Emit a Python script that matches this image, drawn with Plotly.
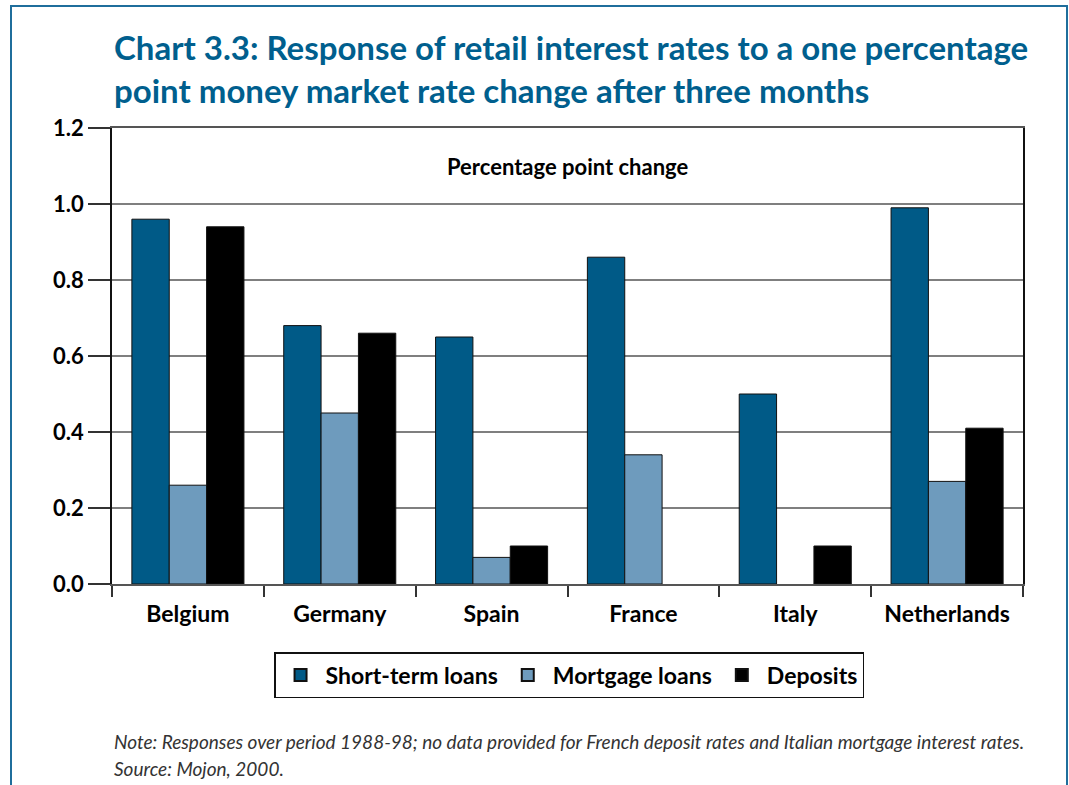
import plotly.graph_objects as go

countries = ["Belgium", "Germany", "Spain", "France", "Italy", "Netherlands"]
short_term = [0.96, 0.68, 0.65, 0.86, 0.50, 0.99]
mortgage = [0.26, 0.45, 0.07, 0.34, None, 0.27]
deposits = [0.94, 0.66, 0.10, None, 0.10, 0.41]
series_names = ["Short-term loans", "Mortgage loans", "Deposits"]
colors = ["#005A87", "#6E9BBD", "#000000"]
y_ticks = [0.0, 0.2, 0.4, 0.6, 0.8, 1.0, 1.2]

FONT = "Lato"

fig = go.Figure()
for name, vals, col in zip(series_names, [short_term, mortgage, deposits], colors):
    fig.add_trace(go.Bar(
        x=countries, y=vals, name=name,
        marker=dict(color=col, line=dict(color="#111111", width=1)),
    ))

W, H = 1069, 785
L, R, T, B = 112, 46, 128, 201
pw, ph = W - L - R, H - T - B

def px_x(p):
    return (p - L) / pw

def px_y(p):
    return (H - B - p) / ph

fig.update_layout(
    width=W, height=H,
    margin=dict(l=L, r=R, t=T, b=B),
    paper_bgcolor="white", plot_bgcolor="white",
    barmode="group", bargap=0.262, bargroupgap=0,
    font=dict(family=FONT, color="#000000"),
    showlegend=True,
    legend=dict(
        orientation="h", x=0.5017, xanchor="center", y=px_y(652), yanchor="top",
        bordercolor="#111111", borderwidth=1.5,
        font=dict(family=FONT, size=23, weight="bold"),
        itemsizing="constant", itemwidth=40, traceorder="normal",
    ),
    xaxis=dict(
        showline=True, linecolor="#555555", linewidth=2, mirror=True,
        ticks="outside", tickson="boundaries", ticklen=11, tickcolor="#333333", tickwidth=1.5,
        tickfont=dict(family=FONT, size=23, weight="bold"),
        ticklabelstandoff=8,
        showgrid=False,
    ),
    yaxis=dict(
        range=[0, 1.2], tickvals=y_ticks, tickformat=".1f",
        showline=True, linecolor="#111111", linewidth=1.5, mirror=True,
        ticks="outside", ticklen=22, tickcolor="#333333", tickwidth=1.5,
        tickfont=dict(family=FONT, size=22, weight="bold"),
        showgrid=True, gridcolor="#7F7F7F", gridwidth=2,
        zeroline=False,
    ),
)

fig.add_annotation(
    text="Chart 3.3: Response of retail interest rates to a one percentage<br>point money market rate change after three months",
    xref="paper", yref="paper", x=0, y=px_y(25), xanchor="left", yanchor="top",
    align="left", showarrow=False,
    font=dict(family=FONT, size=33, color="#005F8E", weight="bold"),
)

fig.add_annotation(
    text="Percentage point change", xref="paper", yref="paper",
    x=0.5, y=px_y(166), xanchor="center", yanchor="middle", showarrow=False,
    font=dict(family=FONT, size=22, weight="bold"),
)

fig.add_annotation(
    text="<i>Note: Responses over period 1988-98; no data provided for French deposit rates and Italian mortgage interest rates.</i>",
    xref="paper", yref="paper", x=0, y=px_y(741), xanchor="left", yanchor="middle",
    align="left", showarrow=False,
    font=dict(family=FONT, size=19, color="#333333"),
)
fig.add_annotation(
    text="<i>Source: Mojon, 2000.</i>",
    xref="paper", yref="paper", x=0, y=px_y(768), xanchor="left", yanchor="middle",
    align="left", showarrow=False,
    font=dict(family=FONT, size=19, color="#333333"),
)

fig.add_shape(
    type="rect", xref="paper", yref="paper",
    x0=px_x(11), x1=px_x(1067), y0=px_y(800), y1=px_y(6),
    line=dict(color="#1F6E9C", width=2), fillcolor="rgba(0,0,0,0)", layer="below",
)

fig.write_html("out.html")
